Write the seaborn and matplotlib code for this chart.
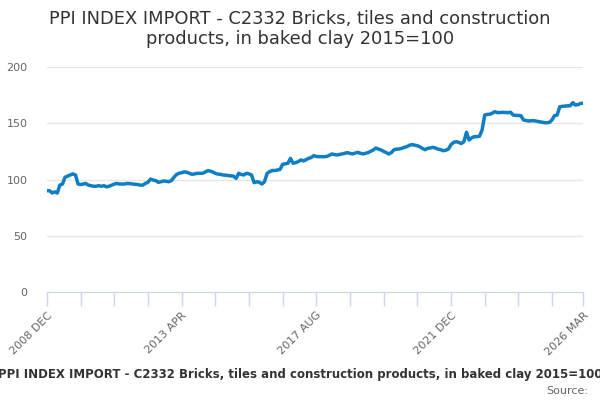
import matplotlib
matplotlib.use("Agg")
import matplotlib.pyplot as plt
import pandas as pd
import seaborn as sns

sns.set_style("white")
plt.rcParams["font.family"] = ["DejaVu Sans"]

title = "PPI INDEX IMPORT - C2332 Bricks, tiles and construction products, in baked clay 2015=100"

# monthly index values, Dec 2008 .. Mar 2026
values_2008_2010 = [90, 90, 88, 89, 88, 95, 96, 102, 103, 104, 105, 104, 96,
                    95.5, 96, 96.5, 95, 94.5, 94, 94, 94.5, 94, 94.5, 93.5, 94]
values_2011_2012 = [95, 96, 96.5, 96, 96, 96, 96.5, 96.3, 96, 95.7, 95.5, 95,
                    95, 96.6, 97.5, 100.4, 99.5, 99, 97.5, 98, 98.7, 98.5, 98, 99]
values_2013_2014 = [102, 104.5, 105.5, 106, 106.7, 106.5, 105.5, 104.6, 105, 105.5, 105.5, 105.5,
                    106.5, 107.9, 107.5, 106.7, 105.5, 104.8, 104.6, 104, 103.8, 103.5, 103.2, 103]
values_2015_2016 = [101, 105.5, 104.5, 104, 105.5, 105, 104, 97.2, 98, 97.5, 96, 98,
                    105.5, 107, 108, 108, 108.4, 109, 113.5, 114, 114.4, 118.8, 114.4, 115]
values_2017_2018 = [115.9, 117.4, 116.5, 117.5, 118.8, 119.5, 121.2, 120.5, 120.3, 120.3, 120.3, 120.5,
                    121.5, 122.7, 122.2, 121.8, 122.3, 122.7, 123.3, 123.9, 123.2, 122.7, 123.5, 124.1]
values_2019_2020 = [123.3, 122.7, 123.3, 123.9, 125, 126.2, 128, 127, 126.2, 125, 123.9, 122.7,
                    124, 126.5, 127, 127.1, 127.7, 128.6, 129.2, 130.5, 131, 130.5, 130, 129]
values_2021_2022 = [127.5, 126.5, 127.7, 128, 128.6, 128, 127, 126.5, 125.6, 126, 127.1, 131,
                    133, 133.6, 133, 132, 133.6, 142, 135.1, 137, 138.1, 138.1, 138.5, 144]
values_2023_2024 = [157.3, 157.9, 158, 159, 160.3, 159.4, 159.5, 159.7, 159.5, 159.4, 159.8, 157.3,
                    157, 156.9, 156.7, 152.9, 152.5, 152, 152.2, 152.3, 151.8, 151.4, 151, 150.5]
values_2025_2026 = [150.5, 150.8, 152.9, 156.8, 157.3, 164.7, 165, 165.3, 165.5, 165.6, 168.3, 166.2,
                    166.5, 167.7, 167.7]

values = (values_2008_2010 + values_2011_2012 + values_2013_2014 + values_2015_2016
          + values_2017_2018 + values_2019_2020 + values_2021_2022 + values_2023_2024
          + values_2025_2026)
months = pd.date_range("2008-12-01", periods=len(values), freq="MS")
df = pd.DataFrame({"month": months, "value": values})

y_ticks = [0, 50, 100, 150, 200]
labelled_ticks = ["2008 DEC", "2013 APR", "2017 AUG", "2021 DEC", "2026 MAR"]

fig = plt.figure(figsize=(6, 4), dpi=100)
ax = fig.add_axes([47 / 600, 108 / 400, 536 / 600, 225 / 400])

sns.lineplot(data=df, x="month", y="value", color="#0f7fc4", linewidth=2.5, ax=ax)

ax.set_ylim(0, 200)
ax.set_xlim(months[0], months[-1])
ax.set_yticks(y_ticks)
ax.set_yticklabels([str(t) for t in y_ticks], color="#666666", fontsize=8)
ax.yaxis.grid(True, color="#e6e6e6", linewidth=1)
ax.set_axisbelow(True)

# a tick every 13 months, the last one on the final month
tick_months = list(months[::13]) + [months[-1]]
ax.set_xticks(tick_months)
labels = [m.strftime("%Y %b").upper() for m in tick_months]
labels = [lab if lab in labelled_ticks else "" for lab in labels]
ax.set_xticklabels(labels, rotation=45, ha="right", rotation_mode="anchor",
                   color="#666666", fontsize=8)
ax.tick_params(axis="x", length=10, width=1, color="#ccd6eb", direction="out", pad=3, bottom=True)
ax.tick_params(axis="y", length=0, pad=14)

for side in ["top", "right", "left"]:
    ax.spines[side].set_visible(False)
ax.spines["bottom"].set_color("#ccd6eb")
ax.set_xlabel("")
ax.set_ylabel("")

fig.text(0.5, 0.975, "PPI INDEX IMPORT - C2332 Bricks, tiles and construction\nproducts, in baked clay 2015=100",
         ha="center", va="top", fontsize=12.9, color="#333333", linespacing=1.15)
fig.text(0.5, 0.063, title, ha="center", va="center", fontsize=8.5, color="#333333", weight="bold")
fig.text(0.98, 0.022, "Source:", ha="right", va="center", fontsize=8, color="#666666")

fig.savefig("out.png", dpi=100)
